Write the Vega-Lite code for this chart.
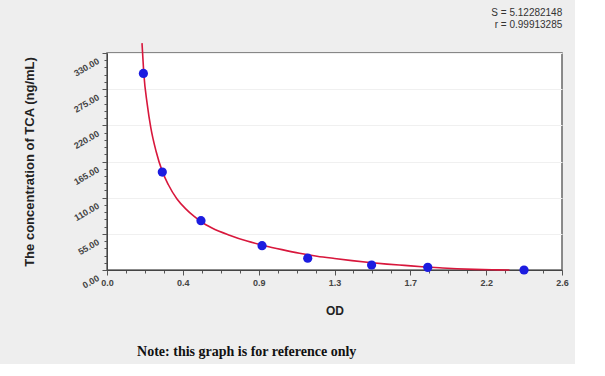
{
  "$schema": "https://vega.github.io/schema/vega-lite/v6.json",
  "background": "#eeeeee",
  "padding": {"left": 22, "top": 7, "right": 5, "bottom": 5},
  "title": {"text": "Note: this graph is for reference only", "orient": "bottom", "anchor": "middle", "font": "Liberation Serif", "fontSize": 14, "fontWeight": "bold", "color": "#111", "offset": 28, "dx": -49},
  "config": {
    "view": {"fill": "white", "stroke": "#666", "strokeWidth": 1.5},
    "axis": {"labelFont": "Liberation Sans", "titleFont": "Liberation Sans", "labelFontWeight": "bold", "titleFontWeight": "bold", "labelColor": "#444", "titleColor": "#222", "domainColor": "#444", "tickColor": "#555"}
  },
  "vconcat": [
    {
      "width": 455,
      "height": 217,
      "title": {"text": "S = 5.12282148", "subtitle": "r = 0.99913285", "anchor": "end", "dx": -6, "font": "Liberation Sans", "fontSize": 10, "fontWeight": "normal", "color": "#333", "subtitleFont": "Liberation Sans", "subtitleFontSize": 10, "subtitleColor": "#333", "subtitlePadding": 2, "offset": 10},
      "layer": [
        {
          "data": {"values": [
            {"od": 0.200, "conc": 345},
            {"od": 0.210, "conc": 300},
            {"od": 0.230, "conc": 252},
            {"od": 0.250, "conc": 217},
            {"od": 0.280, "conc": 181},
            {"od": 0.316, "conc": 150},
            {"od": 0.350, "conc": 130},
            {"od": 0.400, "conc": 108},
            {"od": 0.450, "conc": 93},
            {"od": 0.500, "conc": 81},
            {"od": 0.540, "conc": 73},
            {"od": 0.600, "conc": 64},
            {"od": 0.700, "conc": 53},
            {"od": 0.800, "conc": 44},
            {"od": 0.900, "conc": 37},
            {"od": 1.000, "conc": 31},
            {"od": 1.100, "conc": 25.5},
            {"od": 1.200, "conc": 21},
            {"od": 1.300, "conc": 17.5},
            {"od": 1.400, "conc": 14.3},
            {"od": 1.500, "conc": 11.5},
            {"od": 1.600, "conc": 9},
            {"od": 1.700, "conc": 7},
            {"od": 1.800, "conc": 5},
            {"od": 1.900, "conc": 3.4},
            {"od": 2.000, "conc": 2},
            {"od": 2.100, "conc": 1},
            {"od": 2.200, "conc": 0.4},
            {"od": 2.300, "conc": 0}
          ]},
          "mark": {"type": "line", "color": "#d8173c", "strokeWidth": 1.6, "clip": false, "interpolate": "monotone"},
          "encoding": {
            "x": {"field": "od", "type": "quantitative", "scale": {"domain": [0, 2.6], "nice": false},
              "axis": {"values": [0, 0.10833, 0.21667, 0.325, 0.43333, 0.54167, 0.65, 0.75833, 0.86667, 0.975, 1.08333, 1.19167, 1.3, 1.40833, 1.51667, 1.625, 1.73333, 1.84167, 1.95, 2.05833, 2.16667, 2.275, 2.38333, 2.49167, 2.6],
                "tickCount": 200,
                "labelExpr": "abs(datum.value / 0.433333 - round(datum.value / 0.433333)) < 0.02 ? format(datum.value, '.1f') : ''",
                "tickSize": {"condition": {"test": "abs(datum.value / 0.433333 - round(datum.value / 0.433333)) < 0.02", "value": 5}, "value": 3},
                "title": "OD", "titleFontSize": 12, "titlePadding": 18, "labelFontSize": 9, "labelPadding": 3, "grid": false, "labelFlush": false, "labelOverlap": false}},
            "y": {"field": "conc", "type": "quantitative", "scale": {"domain": [0, 330], "nice": false},
              "axis": {"values": [0, 11, 22, 33, 44, 55, 66, 77, 88, 99, 110, 121, 132, 143, 154, 165, 176, 187, 198, 209, 220, 231, 242, 253, 264, 275, 286, 297, 308, 319, 330],
                "tickCount": 200,
                "labelExpr": "abs(datum.value / 55 - round(datum.value / 55)) < 0.01 ? format(datum.value, '.2f') : ''",
                "tickSize": {"condition": {"test": "abs(datum.value / 55 - round(datum.value / 55)) < 0.01", "value": 5}, "value": 3},
                "gridOpacity": {"condition": {"test": "abs(datum.value / 55 - round(datum.value / 55)) < 0.01 && datum.value > 0", "value": 1}, "value": 0},
                "grid": true, "gridColor": "#f0f0f0",
                "title": "The concentration of  TCA (ng/mL)", "titleFontSize": 13, "titlePadding": 36, "labelFontSize": 9, "labelAngle": -30, "labelPadding": 4, "labelOffset": 7, "labelFlush": false, "labelOverlap": false}}
          }
        },
        {
          "data": {"values": [
            {"od": 0.208, "conc": 299},
            {"od": 0.316, "conc": 149},
            {"od": 0.537, "conc": 75},
            {"od": 0.886, "conc": 37},
            {"od": 1.147, "conc": 18},
            {"od": 1.512, "conc": 7.6},
            {"od": 1.833, "conc": 4},
            {"od": 2.383, "conc": 0}
          ]},
          "mark": {"type": "circle", "color": "#1c1ce0", "opacity": 1, "size": 85, "clip": false},
          "encoding": {
            "x": {"field": "od", "type": "quantitative"},
            "y": {"field": "conc", "type": "quantitative"}
          }
        }
      ]
    }
  ]
}
